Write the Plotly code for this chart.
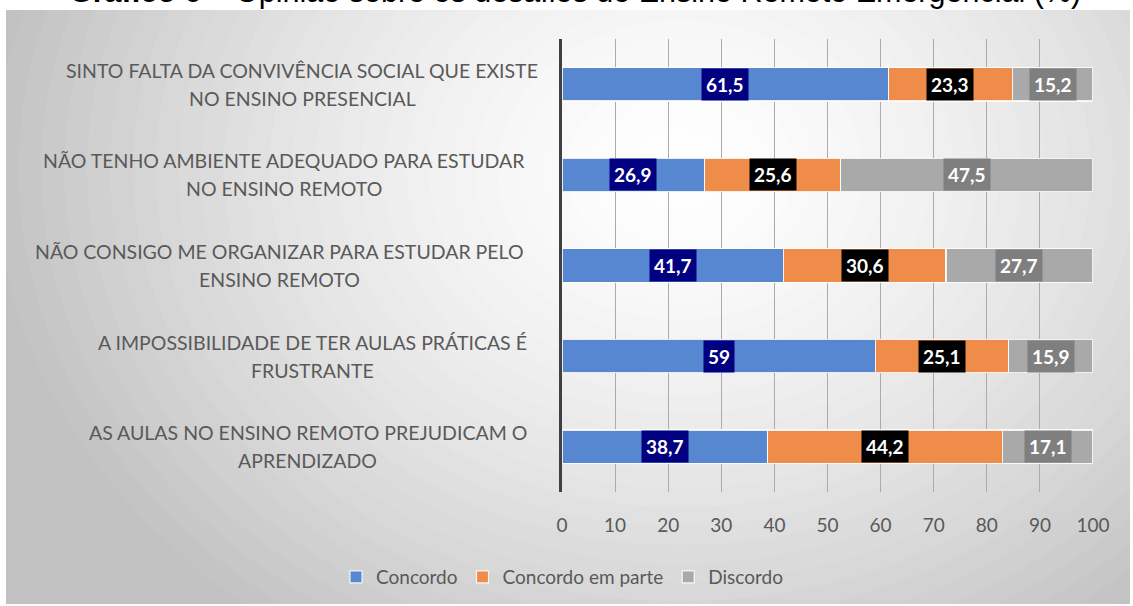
import plotly.graph_objects as go

W, H = 1133, 606

# ---------------- data ----------------
categories = [
    "SINTO FALTA DA CONVIVÊNCIA SOCIAL QUE EXISTE<br>NO ENSINO PRESENCIAL",
    "NÃO TENHO AMBIENTE ADEQUADO PARA ESTUDAR<br>NO ENSINO REMOTO",
    "NÃO CONSIGO ME ORGANIZAR PARA ESTUDAR PELO<br>ENSINO REMOTO",
    "A IMPOSSIBILIDADE DE TER AULAS PRÁTICAS É<br>FRUSTRANTE",
    "AS AULAS NO ENSINO REMOTO PREJUDICAM O<br>APRENDIZADO",
]
concordo = [61.5, 26.9, 41.7, 59, 38.7]
concordo_em_parte = [23.3, 25.6, 30.6, 25.1, 44.2]
discordo = [15.2, 47.5, 27.7, 15.9, 17.1]
series_names = ["Concordo", "Concordo em parte", "Discordo"]
x_ticks = [0, 10, 20, 30, 40, 50, 60, 70, 80, 90, 100]
title_bold = "Gráfico 6 –"
title_rest = "Opinião sobre os desafios do Ensino Remoto Emergencial (%)"

# ---------------- style ----------------
bar_colors = ["#5787D0", "#EF8C4A", "#A9A9A9"]
label_bg = ["#000080", "#000000", "#7F7F7F"]
FONT = "Lato"
TEXT_GRAY = "#595959"

def px(x):
    return x / W

def py(y):
    return 1 - y / H

plot_left, plot_right = 562, 1093
plot_top, plot_bottom = 39, 492
label_right = 537

fig = go.Figure()

series = [concordo, concordo_em_parte, discordo]
for name, vals, col in zip(series_names, series, bar_colors):
    fig.add_trace(go.Bar(
        y=categories, x=vals, name=name, orientation="h",
        marker=dict(color=col, line=dict(color="rgba(255,255,255,0.85)", width=1.2)),
        hovertemplate="%{y}<br>" + name + ": %{x}<extra></extra>",
    ))

annotations = []

def fmt(v):
    return f"{v:g}".replace(".", ",")

# data labels
for i, cat in enumerate(categories):
    start = 0
    for vals, bg in zip(series, label_bg):
        v = vals[i]
        annotations.append(dict(
            x=start + v / 2, y=cat, xref="x", yref="y",
            text=fmt(v), showarrow=False,
            font=dict(family=FONT, size=19, color="white", weight="bold"),
            bgcolor=bg, borderpad=4,
        ))
        start += v

# category labels (two centred lines, block right-aligned)
line_widths = [470, 507, 515, 449, 459]
for cat, w in zip(categories, line_widths):
    lines = cat.split("<br>")
    cx = label_right - w / 2
    for j, ln in enumerate(lines):
        annotations.append(dict(
            x=px(cx), y=cat, xref="paper", yref="y",
            yshift=14 if j == 0 else -14,
            text=ln, showarrow=False, xanchor="center", yanchor="middle",
            font=dict(family=FONT, size=19.5, color=TEXT_GRAY),
        ))

# title (cut at top, as in the reference)
annotations.append(dict(
    x=px(575), y=1, xref="paper", yref="paper", yshift=9,
    text=f"<b>{title_bold}</b> {title_rest}", showarrow=False,
    xanchor="center", yanchor="middle",
    font=dict(family="Liberation Sans, Arial", size=30.5, color="#000000"),
))

# background: radial-like gradient via concentric ellipses
shapes = []
cx, cy, rx, ry = 680, 170, 730, 600
N = 48
dmax = 1.5
for k in range(N + 1):
    d = dmax * (1 - k / N)
    g = 255 - 64 * min(d, 1.25) ** 1.5
    g = int(max(min(g, 255), 194))
    col = f"rgb({g},{g},{g})"
    shapes.append(dict(
        type="circle", xref="paper", yref="paper", layer="below",
        x0=px(cx - rx * d), x1=px(cx + rx * d),
        y0=py(cy + ry * d), y1=py(cy - ry * d),
        fillcolor=col, line=dict(width=0),
    ))
# mask outside the chart box
for (x0, y0, x1, y1) in [(-50, -50, W + 50, 10), (-50, -50, 6, H + 50),
                         (1130, -50, W + 50, H + 50), (-50, 604, W + 50, H + 50)]:
    shapes.append(dict(
        type="rect", xref="paper", yref="paper", layer="below",
        x0=px(x0), x1=px(x1), y0=py(y1), y1=py(y0),
        fillcolor="white", line=dict(width=0),
    ))

fig.update_layout(
    width=W, height=H,
    margin=dict(l=0, r=0, t=0, b=0, pad=0, autoexpand=False),
    paper_bgcolor="white",
    plot_bgcolor="rgba(0,0,0,0)",
    barmode="stack",
    bargap=0.63,
    showlegend=True,
    legend=dict(
        orientation="h", x=px(562), xanchor="center", y=py(577), yanchor="middle",
        font=dict(family=FONT, size=19, color=TEXT_GRAY),
        bgcolor="rgba(0,0,0,0)", itemwidth=30, traceorder="normal",
    ),
    xaxis=dict(
        domain=[px(plot_left), px(plot_right)],
        range=[0, 100], tickvals=x_ticks, ticktext=[str(t) for t in x_ticks],
        showgrid=True, gridcolor="#ABABAB", gridwidth=1,
        zeroline=False, showline=False, ticks="",
        tickfont=dict(family=FONT, size=19, color=TEXT_GRAY),
        ticklabelstandoff=20, automargin=False,
        fixedrange=True,
    ),
    yaxis=dict(
        domain=[py(plot_bottom), py(plot_top)],
        type="category", autorange="reversed",
        showticklabels=False, showgrid=False, zeroline=False,
        showline=True, linecolor="#404040", linewidth=3,
        automargin=False, fixedrange=True,
    ),
    annotations=annotations,
    shapes=shapes,
    font=dict(family=FONT, color=TEXT_GRAY),
)

fig.write_html(
    "out.html",
    config={"displayModeBar": False},
    post_script="document.body.style.margin='0';document.body.style.overflow='hidden';",
)
